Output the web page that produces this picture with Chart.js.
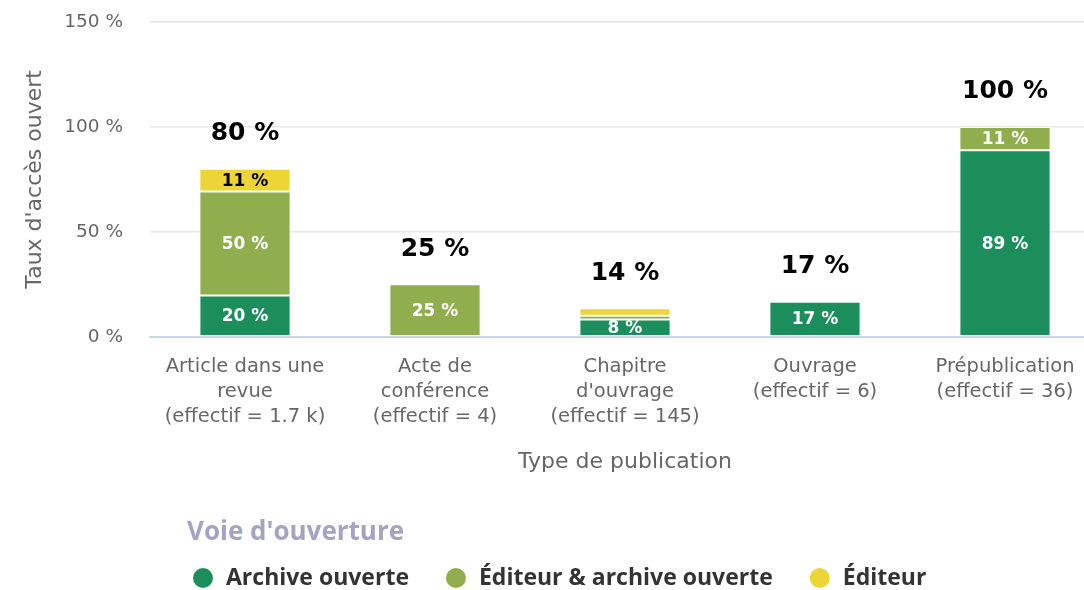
<!DOCTYPE html>
<html>
<head>
<meta charset="utf-8">
<script src="https://cdn.jsdelivr.net/npm/chart.js@4.4.1/dist/chart.umd.min.js"></script>
<style>
html,body{margin:0;padding:0;background:#fff;overflow:hidden;}
#wrap{position:relative;width:1100px;height:590px;}
</style>
</head>
<body>
<div id="wrap"><canvas id="c"></canvas></div>
<script>
const categories = [
  ["Article dans une", "revue", "(effectif = 1.7 k)"],
  ["Acte de", "conférence", "(effectif = 4)"],
  ["Chapitre", "d'ouvrage", "(effectif = 145)"],
  ["Ouvrage", "(effectif = 6)"],
  ["Prépublication", "(effectif = 36)"]
];
const seriesNames = ["Archive ouverte", "Éditeur & archive ouverte", "Éditeur"];
const archiveOuverte = [19.6, 0, 8.2, 16.7, 88.9];
const editeurArchive = [49.6, 25, 1.8, 0, 11.1];
const editeur = [10.8, 0, 3.6, 0, 0];
const yTicks = [0, 50, 100, 150];
const colors = ["#1b8e5c", "#90ae4e", "#ebd635"];

const FONT = "'DejaVu Sans', sans-serif";

const labelPlugin = {
  id: 'labels',
  afterDatasetsDraw(chart) {
    const ctx = chart.ctx;
    ctx.save();
    ctx.textAlign = 'center';
    ctx.textBaseline = 'middle';
    chart.data.datasets.forEach((ds, di) => {
      const meta = chart.getDatasetMeta(di);
      meta.data.forEach((bar, i) => {
        const v = ds.data[i];
        if (!v || v < 5) return;
        ctx.font = "bold 17px " + FONT;
        ctx.fillStyle = di === 2 ? '#000' : '#fff';
        const yc = (bar.y + bar.base) / 2;
        ctx.fillText(Math.round(v) + ' %', bar.x, yc + 1);
      });
    });
    const n = chart.data.labels.length;
    for (let i = 0; i < n; i++) {
      let total = 0;
      chart.data.datasets.forEach(ds => total += ds.data[i]);
      const yTop = chart.scales.y.getPixelForValue(total);
      const x = chart.getDatasetMeta(0).data[i].x;
      ctx.font = "bold 25px " + FONT;
      ctx.fillStyle = '#000';
      ctx.fillText(Math.round(total) + ' %', x, yTop - 35);
    }
    ctx.restore();
  }
};

const legendPlugin = {
  id: 'customLegend',
  afterDraw(chart) {
    const ctx = chart.ctx;
    ctx.save();
    ctx.textBaseline = 'middle';
    ctx.textAlign = 'left';
    ctx.font = "bold 26px 'Open Sans', sans-serif";
    ctx.fillStyle = '#a3a3c2';
    ctx.fillText("Voie d'ouverture", 187, 533);
    let x = 203;
    const y = 578;
    ctx.font = "bold 23px 'Open Sans', sans-serif";
    seriesNames.forEach((name, i) => {
      ctx.fillStyle = colors[i];
      ctx.beginPath();
      ctx.arc(x, y, 10, 0, Math.PI * 2);
      ctx.fill();
      ctx.fillStyle = '#333';
      ctx.fillText(name, x + 23, y);
      x = x + 23 + ctx.measureText(name).width + 47;
    });
    ctx.restore();
  }
};

new Chart(document.getElementById('c'), {
  type: 'bar',
  data: {
    labels: categories,
    datasets: [
      { label: seriesNames[0], data: archiveOuverte, backgroundColor: colors[0] },
      { label: seriesNames[1], data: editeurArchive, backgroundColor: colors[1] },
      { label: seriesNames[2], data: editeur, backgroundColor: colors[2] }
    ].map(d => Object.assign(d, { borderColor: '#fff', borderWidth: 1, borderSkipped: false, categoryPercentage: 1, barPercentage: 0.48 }))
  },
  options: {
    responsive: true,
    maintainAspectRatio: false,
    animation: false,
    layout: { padding: { top: 22, bottom: 115, left: 0, right: 0 } },
    plugins: { legend: { display: false }, tooltip: { enabled: false } },
    scales: {
      x: {
        stacked: true,
        grid: { display: false, drawTicks: false },
        border: { color: '#ccd6eb', width: 2 },
        ticks: { color: '#666', font: { family: FONT, size: 19.5, lineHeight: 1.28 }, padding: 18, maxRotation: 0, autoSkip: false },
        title: { display: true, text: 'Type de publication', color: '#666', font: { family: FONT, size: 22 }, padding: { top: 1, bottom: 0 } }
      },
      y: {
        stacked: true,
        min: 0, max: 150,
        afterBuildTicks(axis) { axis.ticks = yTicks.map(v => ({ value: v })); },
        afterFit(axis) { axis.width = 150; axis.paddingTop = 0; },
        grid: { color: '#e6e6e6', drawTicks: false, lineWidth: 1.5 },
        border: { display: false },
        ticks: { color: '#666', font: { family: FONT, size: 18.5 }, padding: 27, callback: v => v + ' %' },
        title: { display: true, text: "Taux d'accès ouvert", color: '#666', font: { family: FONT, size: 22 }, padding: { top: 22, bottom: 0 } }
      }
    }
  },
  plugins: [labelPlugin, legendPlugin]
});
</script>
</body>
</html>
